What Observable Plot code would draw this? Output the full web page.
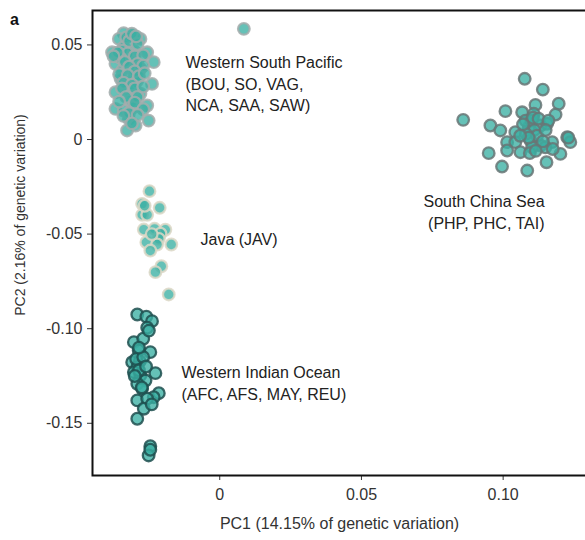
<!DOCTYPE html>
<html><head><meta charset="utf-8">
<script src="https://cdn.jsdelivr.net/npm/d3@7"></script>
<script src="https://cdn.jsdelivr.net/npm/@observablehq/plot@0.6"></script>
<style>
body{margin:0;background:#fff;overflow:hidden;font-family:"Liberation Sans",Arial,sans-serif}
#wrap{position:relative;width:585px;height:540px;overflow:hidden}
#panel{position:absolute;left:10px;top:12px;font-weight:bold;font-size:16px;line-height:16px;color:#111;z-index:2}
#chart{position:absolute;left:0;top:0;width:620px}
#chart svg{max-width:none !important;width:620px;height:540px}
</style>
</head><body><div id="wrap"><div id="chart"></div><div id="panel">a</div></div>
<script>
// Western South Pacific (BOU, SO, VAG, NCA, SAA, SAW)
const wspPC1 = [-0.0339,-0.0309,-0.0280,-0.0356,-0.0380,-0.0339,-0.0303,-0.0256,-0.0233,-0.0368,-0.0315,-0.0344,-0.0280,-0.0303,-0.0350,-0.0239,-0.0291,-0.0327,-0.0368,-0.0280,-0.0315,-0.0368,-0.0256,-0.0303,-0.0339,-0.0321,-0.0251,-0.0297,-0.0327,0.0085,
  -0.0330,-0.0320,-0.0290,-0.0345,-0.0325,-0.0300,-0.0270,-0.0350,-0.0335,-0.0290,-0.0270,-0.0320,-0.0300,-0.0355,-0.0325,-0.0285,-0.0265,-0.0340,-0.0310,-0.0300,-0.0345,-0.0290,-0.0330,-0.0355,-0.0300,-0.0270,-0.0320,-0.0290,-0.0340,-0.0310,-0.0270,-0.0360,-0.0375,-0.0310,-0.0295];
const wspPC2 = [0.0562,0.0550,0.0532,0.0532,0.0461,0.0488,0.0470,0.0461,0.0409,0.0400,0.0418,0.0365,0.0374,0.0329,0.0321,0.0294,0.0312,0.0259,0.0250,0.0242,0.0206,0.0162,0.0180,0.0171,0.0153,0.0109,0.0100,0.0074,0.0048,0.0585,
  0.0540,0.0520,0.0505,0.0470,0.0455,0.0440,0.0445,0.0430,0.0410,0.0400,0.0390,0.0385,0.0360,0.0345,0.0340,0.0335,0.0350,0.0300,0.0290,0.0270,0.0270,0.0225,0.0225,0.0200,0.0195,0.0160,0.0140,0.0130,0.0125,0.0085,0.0280,0.0460,0.0440,0.0560,0.0545];
// Java (JAV)
const javPC1 = [-0.0248,-0.0274,-0.0212,-0.0274,-0.0256,-0.0268,-0.0230,-0.0192,-0.0209,-0.0215,-0.0259,-0.0171,-0.0221,-0.0245,-0.0206,-0.0227,-0.0180,-0.0240,-0.0265];
const javPC2 = [-0.0273,-0.0340,-0.0361,-0.0398,-0.0398,-0.0476,-0.0472,-0.0477,-0.0498,-0.0525,-0.0543,-0.0555,-0.0555,-0.0587,-0.0670,-0.0701,-0.0819,-0.0500,-0.0350];
// Western Indian Ocean (AFC, AFS, MAY, REU)
const wioPC1 = [-0.0291,-0.0259,-0.0239,-0.0256,-0.0303,-0.0270,-0.0286,-0.0245,-0.0309,-0.0282,-0.0291,-0.0227,-0.0303,-0.0280,-0.0262,-0.0291,-0.0274,-0.0215,-0.0233,-0.0291,-0.0256,-0.0268,-0.0291,-0.0245,-0.0251,
  -0.0245,-0.0295,-0.0285,-0.0300,-0.0270,-0.0285,-0.0275,-0.0260,-0.0250,-0.0240];
const wioPC2 = [-0.0925,-0.0936,-0.0960,-0.0995,-0.1071,-0.1053,-0.1115,-0.1124,-0.1177,-0.1172,-0.1203,-0.1235,-0.1230,-0.1247,-0.1274,-0.1291,-0.1318,-0.1341,-0.1362,-0.1379,-0.1370,-0.1423,-0.1476,-0.1621,-0.1670,
  -0.1640,-0.1160,-0.1220,-0.1250,-0.1150,-0.1100,-0.1310,-0.1200,-0.1010,-0.1400];
// South China Sea (PHP, PHC, TAI)
const scsPC1 = [0.1076,0.1140,0.1196,0.1114,0.1008,0.0859,0.1067,0.1185,0.0955,0.0990,0.1108,0.1132,0.1155,0.1090,0.1043,0.1079,0.1226,0.1237,0.1173,0.1014,0.1043,0.1096,0.1132,0.1149,0.1102,0.1202,0.0949,0.1014,0.1061,0.1094,0.1153,0.0996,0.1085,
  0.1100,0.1110,0.1080,0.1120,0.1105,0.1125,0.1070,0.1140,0.1090,0.1160,0.1175,0.1115,0.1060,0.1150,0.1230];
const scsPC2 = [0.0321,0.0264,0.0189,0.0183,0.0150,0.0104,0.0144,0.0132,0.0074,0.0048,0.0136,0.0074,0.0083,0.0065,0.0039,0.0100,0.0012,-0.0014,-0.0014,-0.0014,-0.0014,-0.0005,-0.0032,-0.0041,-0.0041,-0.0076,-0.0072,-0.0058,-0.0067,-0.0072,-0.0120,-0.0143,-0.0164,
  0.0100,0.0050,0.0030,0.0020,0.0115,0.0110,0.0080,-0.0010,0.0010,0.0100,-0.0050,-0.0060,0.0020,0.0050,0.0010];

const groupNames = ["Western South Pacific","Java","Western Indian Ocean","South China Sea"];
const groupStroke = ["#a3abab","#dcd7c6","#1f4f4f","#687575"];

const labelText = ["Western South Pacific\n(BOU, SO, VAG,\nNCA, SAA, SAW)","Java (JAV)","Western Indian Ocean\n(AFC, AFS, MAY, REU)","South China Sea\n(PHP, PHC, TAI)"];
const labelPC1 = [-0.0121,-0.0068,-0.0135,0.1146];
const labelPC2 = [0.0300,-0.0519,-0.1282,-0.0378];
const labelAnchor = ["start","start","start","end"];

const xTicks = [0,0.05,0.10];
const xTickLabels = ["0","0.05","0.10"];
const yTicks = [0.05,0,-0.05,-0.10,-0.15];
const yTickLabels = ["0.05","0","-0.05","-0.10","-0.15"];

const toRows = (xs, ys) => xs.map((x,i)=>({x, y: ys[i]}));
const groups = [toRows(wspPC1,wspPC2), toRows(javPC1,javPC2), toRows(wioPC1,wioPC2), toRows(scsPC1,scsPC2)];
const labels = labelText.map((t,i)=>({t, x: labelPC1[i], y: labelPC2[i], a: labelAnchor[i]}));

const dotMarks = groups.map((rows,gi)=>Plot.dot(rows,{x:"x",y:"y",r:5.8,fill:"#3ab0a3",fillOpacity:0.78,stroke:groupStroke[gi],strokeWidth:2.3,strokeOpacity:0.85}));

const chart = Plot.plot({
  width: 620, height: 540,
  marginLeft: 92, marginRight: 2, marginTop: 10, marginBottom: 65,
  style: {fontFamily: '"Liberation Sans", Arial, sans-serif', fontSize: "16px", color: "#333", background: "#fff", maxWidth: "none"},
  x: {domain: [-0.0449, 0.1407], ticks: xTicks, tickFormat: d => xTickLabels[xTicks.indexOf(d)], tickSize: 5, tickPadding: 8, label: null},
  y: {domain: [-0.1776, 0.0682], ticks: yTicks, tickFormat: d => yTickLabels[yTicks.indexOf(d)], tickSize: 5, tickPadding: 5, label: null},
  marks: [
    ...dotMarks,
    Plot.frame({stroke: "#111", strokeWidth: 2}),
    Plot.text(labels.filter(d=>d.a==="start"), {x:"x", y:"y", text:"t", textAnchor:"start", lineHeight:1.35, fontSize:16, fill:"#222"}),
    Plot.text(labels.filter(d=>d.a==="end"), {x:"x", y:"y", text:"t", textAnchor:"end", lineHeight:1.35, fontSize:16, fill:"#222"}),
    Plot.text(["PC1 (14.15% of genetic variation)"], {frameAnchor:"bottom", textAnchor:"middle", lineAnchor:"middle", dx: -16, dy: 48, fontSize:16, fill:"#333"}),
    Plot.text(["PC2 (2.16% of genetic variation)"], {frameAnchor:"left", textAnchor:"middle", lineAnchor:"middle", dx: -72, dy: -28, rotate: -90, fontSize:14, fill:"#333"})
  ]
});
document.getElementById("chart").appendChild(chart);
</script>
</body></html>
